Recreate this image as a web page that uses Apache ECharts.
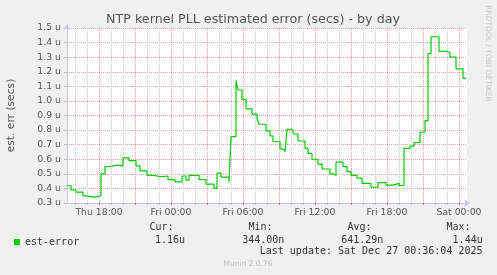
<!DOCTYPE html>
<html>
<head>
<meta charset="utf-8">
<script src="https://cdn.jsdelivr.net/npm/echarts@6/dist/echarts.min.js"></script>
<style>
  html, body { margin: 0; padding: 0; background: #f0f0f0; }
  #chart { width: 497px; height: 275px; }
</style>
</head>
<body>
<div id="chart"></div>
<script>
// est-error samples (step changes), value in micro-seconds
const times = [
  '2025-12-25 15:20', '2025-12-25 15:40', '2025-12-25 16:05', '2025-12-25 16:40', '2025-12-25 16:50',
  '2025-12-25 17:40', '2025-12-25 18:10', '2025-12-25 18:30', '2025-12-25 18:55', '2025-12-25 19:30',
  '2025-12-25 20:00', '2025-12-25 20:30', '2025-12-25 21:05', '2025-12-25 21:25', '2025-12-25 22:00',
  '2025-12-25 22:35', '2025-12-25 23:10', '2025-12-25 23:45', '2025-12-26 00:20', '2025-12-26 00:55',
  '2025-12-26 01:15', '2025-12-26 01:30', '2025-12-26 02:20', '2025-12-26 02:55', '2025-12-26 03:35',
  '2025-12-26 03:50', '2025-12-26 04:10', '2025-12-26 04:50', '2025-12-26 05:00', '2025-12-26 05:25',
  '2025-12-26 05:35', '2025-12-26 05:55', '2025-12-26 06:15', '2025-12-26 06:45', '2025-12-26 07:10',
  '2025-12-26 07:20', '2025-12-26 07:55', '2025-12-26 08:15', '2025-12-26 08:30', '2025-12-26 09:05',
  '2025-12-26 09:15', '2025-12-26 09:30', '2025-12-26 09:40', '2025-12-26 10:05', '2025-12-26 10:15',
  '2025-12-26 10:35', '2025-12-26 11:10', '2025-12-26 11:25', '2025-12-26 11:45', '2025-12-26 12:15',
  '2025-12-26 12:35', '2025-12-26 13:15', '2025-12-26 13:30', '2025-12-26 13:45', '2025-12-26 14:20',
  '2025-12-26 14:40', '2025-12-26 15:00', '2025-12-26 15:30', '2025-12-26 15:55', '2025-12-26 16:40',
  '2025-12-26 17:15', '2025-12-26 17:55', '2025-12-26 18:30', '2025-12-26 19:00', '2025-12-26 19:25',
  '2025-12-26 19:55', '2025-12-26 20:15', '2025-12-26 20:45', '2025-12-26 21:10', '2025-12-26 21:25',
  '2025-12-26 21:40', '2025-12-26 22:20', '2025-12-26 23:00', '2025-12-26 23:15', '2025-12-26 23:45',
  '2025-12-27 00:20', '2025-12-27 00:35'
];
const estError = [
  0.42, 0.39, 0.375, 0.35, 0.34,
  0.35, 0.50, 0.55, 0.56, 0.555,
  0.61, 0.59, 0.555, 0.52, 0.49,
  0.48, 0.485, 0.46, 0.445, 0.485,
  0.457, 0.49, 0.46, 0.43, 0.40,
  0.505, 0.478, 0.443, 0.755, 1.14,
  1.075, 1.01, 0.945, 0.91, 0.88,
  0.84, 0.795, 0.76, 0.72, 0.675,
  0.663, 0.648, 0.805, 0.815, 0.773,
  0.725, 0.675, 0.64, 0.60, 0.567,
  0.533, 0.50, 0.49, 0.58, 0.55,
  0.515, 0.49, 0.47, 0.435, 0.408,
  0.44, 0.423, 0.435, 0.42, 0.675,
  0.69, 0.715, 0.785, 0.865, 1.325,
  1.44, 1.34, 1.33, 1.30, 1.22,
  1.155, 1.155
];

// axis ticks
const labelTimes = ['2025-12-25 18:00', '2025-12-26 00:00', '2025-12-26 06:00',
                    '2025-12-26 12:00', '2025-12-26 18:00', '2025-12-27 00:00'];
const majorTimes = ['2025-12-25 18:00', '2025-12-25 21:00', '2025-12-26 00:00', '2025-12-26 03:00',
                    '2025-12-26 06:00', '2025-12-26 09:00', '2025-12-26 12:00', '2025-12-26 15:00',
                    '2025-12-26 18:00', '2025-12-26 21:00', '2025-12-27 00:00'];
const xMin = '2025-12-25 15:20';
const xMax = '2025-12-27 00:40';

// legend table
const statNames = ['Cur:', 'Min:', 'Avg:', 'Max:'];
const statValues = ['1.16u', '344.00n', '641.29n', '1.44u'];
const lastUpdate = 'Last update: Sat Dec 27 00:36:04 2025';

const days = ['Sun', 'Mon', 'Tue', 'Wed', 'Thu', 'Fri', 'Sat'];
const pad = (n) => (n < 10 ? '0' : '') + n;
const ts = (s) => new Date(s.replace(' ', 'T')).getTime();
const HOUR = 3600000;

const t0 = ts(xMin);
const t1 = ts(xMax);
// hourly minor grid, skipping the 3h major lines
const minorTimes = [];
for (let t = Math.ceil(t0 / HOUR) * HOUR; t <= t1; t += HOUR) {
  if (new Date(t).getHours() % 3 !== 0) minorTimes.push(t);
}

const mono = '"DejaVu Sans Mono", monospace';
const sans = '"DejaVu Sans", sans-serif';
const redGrid = { color: 'rgba(225,70,70,0.55)', type: [1, 1], width: 1 };
const greyGrid = { color: '#c4c4c4', type: [1, 1], width: 1 };
const axisBlue = '#c6c6f2';

const chart = echarts.init(document.getElementById('chart'));

const graphics = [
  {
    type: 'rect', silent: true, z: -10,
    shape: { x: 67, y: 28, width: 400, height: 175 },
    style: { fill: '#ffffff' }
  },
  {
    type: 'text', x: 11, y: 115.5, rotation: Math.PI / 2,
    style: { text: 'est. err (secs)', font: '10.7px ' + sans, fill: '#555', align: 'center', verticalAlign: 'middle' }
  },
  {
    type: 'text', x: 488, y: 53.5, rotation: -Math.PI / 2,
    style: { text: 'RRDTOOL / TOBI OETIKER', font: '7.5px ' + sans, fill: '#c8c8c8', align: 'center', verticalAlign: 'middle' }
  },
  {
    type: 'text', x: 248, y: 264.3,
    style: { text: 'Munin 2.0.76', font: '7.5px ' + sans, fill: '#c0c0c0', align: 'center', verticalAlign: 'middle' }
  },
  {
    type: 'text', x: 482.5, y: 251.7,
    style: { text: lastUpdate, font: '10px ' + mono, fill: '#333', align: 'right', verticalAlign: 'middle' }
  }
];
const headX = [149.5, 248.5, 347.5, 446.5];
const valRight = [185, 284.3, 383.3, 482.7];
statNames.forEach((n, i) => {
  graphics.push({
    type: 'text', x: headX[i], y: 227.3,
    style: { text: n, font: '10px ' + mono, fill: '#333', align: 'left', verticalAlign: 'middle' }
  });
  graphics.push({
    type: 'text', x: valRight[i], y: 240,
    style: { text: statValues[i], font: '10px ' + mono, fill: '#333', align: 'right', verticalAlign: 'middle' }
  });
});

const option = {
  backgroundColor: '#f0f0f0',
  animation: false,
  title: {
    text: 'NTP kernel PLL estimated error (secs) - by day',
    left: 248, top: 8, textAlign: 'center',
    textStyle: { fontFamily: sans, fontSize: 12.7, fontWeight: 'normal', color: '#555' }
  },
  legend: {
    left: 14, top: 237, padding: 0,
    icon: 'rect', itemWidth: 6, itemHeight: 6, itemGap: 10,
    textStyle: { fontFamily: mono, fontSize: 10, color: '#333' },
    data: ['est-error']
  },
  grid: { left: 67, right: 30, top: 28, bottom: 72, containLabel: false },
  xAxis: [
    {
      type: 'value', min: t0, max: t1,
      axisLine: { lineStyle: { color: axisBlue }, symbol: ['none', 'arrow'], symbolSize: [6, 6], symbolOffset: [0, 3] },
      axisTick: { show: true, length: 2, inside: false, lineStyle: { color: '#e07070' }, customValues: majorTimes.map(ts) },
      axisLabel: {
        customValues: labelTimes.map(ts), margin: 5, color: '#555', fontFamily: sans, fontSize: 9.3,
        formatter: (v) => { const d = new Date(v); return days[d.getDay()] + ' ' + pad(d.getHours()) + ':' + pad(d.getMinutes()); }
      },
      splitLine: { show: true, lineStyle: redGrid }
    },
    {
      type: 'value', min: t0, max: t1, position: 'bottom',
      axisLine: { show: false },
      axisTick: { show: true, length: 2, lineStyle: { color: '#bbb' }, customValues: minorTimes },
      axisLabel: { show: false },
      splitLine: { show: true, lineStyle: greyGrid }
    }
  ],
  yAxis: {
    type: 'value', min: 0.3, max: 1.5, interval: 0.1,
    axisLine: { show: true, lineStyle: { color: axisBlue }, symbol: ['none', 'arrow'], symbolSize: [6, 6], symbolOffset: [0, 4] },
    axisTick: { show: true, length: 3, lineStyle: { color: '#bbb' } },
    axisLabel: { margin: 6, color: '#555', fontFamily: sans, fontSize: 9.3, formatter: (v) => v.toFixed(1) + ' u' },
    splitLine: { show: true, lineStyle: redGrid }
  },
  series: [{
    name: 'est-error', type: 'line', step: 'end', xAxisIndex: 0,
    showSymbol: false, symbol: 'none',
    itemStyle: { color: '#00cc00' },
    lineStyle: { color: '#00cc00', width: 1.2 },
    data: times.map((t, i) => [ts(t), estError[i]]),
    z: 5
  }],
  graphic: graphics
};
chart.setOption(option);
</script>
</body>
</html>
